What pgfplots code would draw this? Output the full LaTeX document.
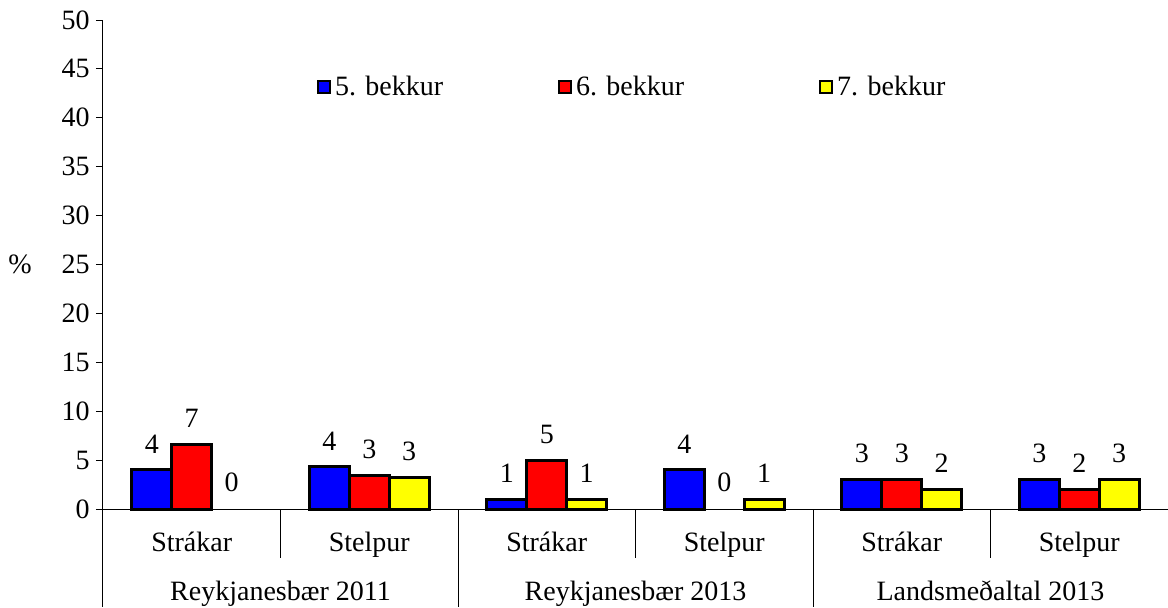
\documentclass[border=0pt]{standalone}
\usepackage{fontspec}
\setmainfont{Liberation Serif}
\usepackage{pgfplots}
\usepackage{pgfplotstable}
\pgfplotsset{compat=1.18}
\usetikzlibrary{calc}

\definecolor{barblue}{RGB}{0,0,255}
\definecolor{barred}{RGB}{255,0,0}
\definecolor{baryellow}{RGB}{255,255,0}

% 5. bekkur
\pgfplotstableread{
x y label
0 4.0 4
1 4.3 4
2 1.0 1
3 4.0 4
4 3.0 3
5 3.0 3
}\gradefive
% 6. bekkur (Stelpur 2013 = 0, label only)
\pgfplotstableread{
x y label
0 6.6 7
1 3.4 3
2 5.0 5
4 3.0 3
5 2.0 2
}\gradesix
% 7. bekkur (Strákar 2011 = 0, label only)
\pgfplotstableread{
x y label
1 3.2 3
2 1.0 1
3 1.0 1
4 2.0 2
5 3.0 3
}\gradeseven

\pgfplotsset{
  mybar/.style={ybar, bar width=0.225, bar shift=0, draw=black, line width=1.5pt,
    nodes near coords, point meta=explicit symbolic,
    every node near coord/.append style={black, yshift=4.3pt},
    legend image code/.code={\draw[##1, line width=1pt] (0pt,-3pt) rectangle (6pt,3pt);}},
}

\begin{document}
\begin{tikzpicture}[font=\fontsize{14}{16.8}\selectfont]
\begin{axis}[
  name=ax,
  scale only axis,
  width=532.5pt, height=244.5pt,
  xmin=-0.5, xmax=5.5,
  ymin=0, ymax=50,
  ytick={0,5,...,50},
  xtick={0,...,5},
  xticklabels={Strákar,Stelpur,Strákar,Stelpur,Strákar,Stelpur},
  x tick style={draw=none},
  xticklabel style={anchor=base, yshift=-17.5pt},
  y tick style={black, line width=0.5pt},
  yticklabel style={inner xsep=3pt},
  tick align=outside,
  major tick length=3.5pt,
  axis x line*=bottom, axis y line*=left,
  axis line style={black, line width=0.5pt, -},
  /pgf/number format/assume math mode=true,
  ylabel={\%},
  ylabel style={rotate=-90, at={(axis description cs:-0.078,0.5)}, anchor=center},
  clip=false,
  legend columns=3,
  legend style={at={(0.195,0.863)}, anchor=west, draw=none, fill=none,
    /tikz/column 2/.style={column sep=55.5pt},
    /tikz/column 4/.style={column sep=65.5pt}},
]
\addplot[mybar, fill=barblue] table[x expr=\thisrow{x}-0.225, y=y, meta=label] {\gradefive};
\addlegendentry{5. bekkur}
\addplot[mybar, fill=barred] table[x=x, y=y, meta=label] {\gradesix};
\addlegendentry{6. bekkur}
\addplot[mybar, fill=baryellow] table[x expr=\thisrow{x}+0.225, y=y, meta=label] {\gradeseven};
\addlegendentry{7. bekkur}
% zero values: label only
\addplot[mybar, draw=none, fill=none, forget plot] coordinates {(0.225,0) [0] (3,0) [0]};

\draw[line width=0.5pt] (axis cs:-0.5,0) -- ++(0pt,-49pt);
\draw[line width=0.5pt] (axis cs:1.5,0) -- ++(0pt,-49pt);
\draw[line width=0.5pt] (axis cs:3.5,0) -- ++(0pt,-49pt);
\draw[line width=0.5pt] (axis cs:0.5,0) -- ++(0pt,-24.5pt);
\draw[line width=0.5pt] (axis cs:2.5,0) -- ++(0pt,-24.5pt);
\draw[line width=0.5pt] (axis cs:4.5,0) -- ++(0pt,-24.5pt);
\node[anchor=base] at (axis cs:0.5,0) [yshift=-45.5pt] {Reykjanesbær 2011};
\node[anchor=base] at (axis cs:2.5,0) [yshift=-45.5pt] {Reykjanesbær 2013};
\node[anchor=base] at (axis cs:4.5,0) [yshift=-45.5pt] {Landsmeðaltal 2013};
\end{axis}
\pgfresetboundingbox
\path ($(ax.south west)+(-51.5pt,-49pt)$) rectangle ($(ax.north east)+(0pt,10pt)$);
\end{tikzpicture}
\end{document}
